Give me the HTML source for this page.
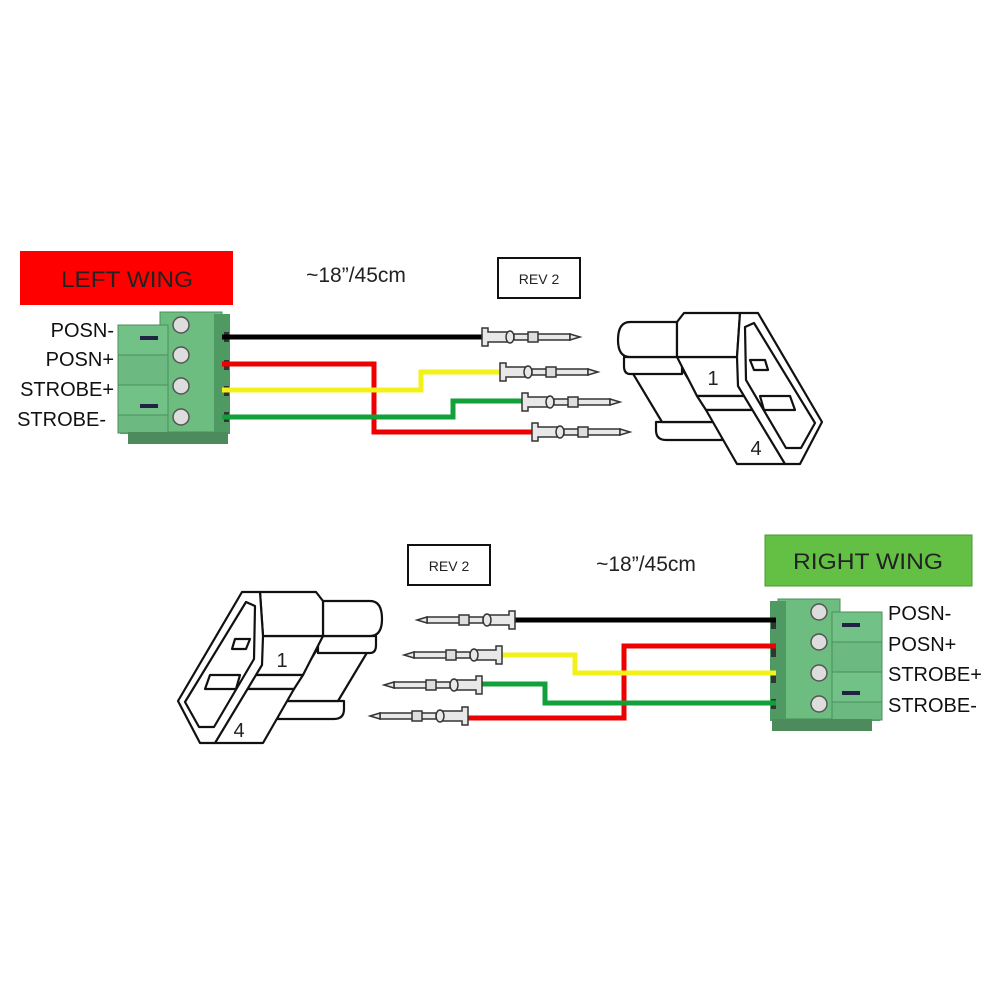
<!DOCTYPE html>
<html><head><meta charset="utf-8"><style>
html,body{margin:0;padding:0;background:#fff}
svg{display:block}
text{font-family:"Liberation Sans",sans-serif}
</style></head><body>
<svg width="1000" height="1000" viewBox="0 0 1000 1000" xmlns="http://www.w3.org/2000/svg">
<defs>
<g id="pin" fill="#e8e8e8" stroke="#333" stroke-width="1.5">
  <path d="M0,-9 L6,-9 L6,-5 L28,-5 L28,5 L6,5 L6,9 L0,9 Z"/>
  <ellipse cx="28" cy="0" rx="4" ry="6"/>
  <rect x="32" y="-3" width="56" height="6"/>
  <rect x="46" y="-5" width="10" height="10" fill="#ddd"/>
  <path d="M88,-3 L98,0 L88,3 Z"/>
</g>
<g id="block">
  <rect x="120" y="330" width="72" height="104" fill="#5daa70"/>
  <rect x="160" y="312" width="62" height="120" fill="#6dbd80" stroke="#4c8f5c"/>
  <rect x="214" y="314" width="16" height="120" fill="#4f9a62"/>
  <rect x="118" y="325" width="50" height="30" fill="#72c287" stroke="#4c8f5c"/>
  <rect x="118" y="355" width="50" height="30" fill="#6cb982" stroke="#4c8f5c"/>
  <rect x="118" y="385" width="50" height="30" fill="#72c287" stroke="#4c8f5c"/>
  <rect x="118" y="415" width="50" height="18" fill="#6cb982" stroke="#4c8f5c"/>
  <rect x="140" y="336" width="18" height="4" fill="#224"/>
  <rect x="140" y="404" width="18" height="4" fill="#224"/>
  <g fill="#ddd" stroke="#555" stroke-width="1.5">
    <circle cx="181" cy="325" r="8"/><circle cx="181" cy="355" r="8"/>
    <circle cx="181" cy="386" r="8"/><circle cx="181" cy="417" r="8"/>
  </g>
  <g fill="#333"><rect x="224" y="332" width="5" height="10"/><rect x="224" y="360" width="5" height="10"/><rect x="224" y="386" width="5" height="10"/><rect x="224" y="412" width="5" height="10"/></g>
  <rect x="128" y="432" width="100" height="12" fill="#4d8a5c"/>
</g>
<g id="housing" fill="#fff" stroke="#111" stroke-width="2.2" stroke-linejoin="round">
  <path d="M656,422 H722 V440 H666 Q656,440 656,430 Z"/>
  <path d="M632,372 L684,372 L700,398 L725,422 L662,422 Z"/>
  <path d="M624,357 H682 V374 H630 Q624,374 624,366 Z"/>
  <path d="M630,322 L677,322 L677,357 L630,357 Q618,357 618,340 Q618,322 630,322 Z"/>
  <path d="M677,357 L737,357 L758,396 L697,396 Z"/>
  <path d="M697,396 L758,396 L762,410 L706,410 Z"/>
  <path d="M706,410 L762,410 L785,464 L737,464 Z"/>
  <path d="M684,313 L740,313 L737,357 L677,357 L677,322 Z"/>
  <path d="M740,313 L758,313 L822,422 L800,464 L785,464 L738,386 L737,357 Z"/>
  <path d="M745,327 L754,323 L815,423 L801,448 L786,448 L746,380 Z"/>
  <path d="M750,360 L765,360 L768,370 L754,370 Z"/>
  <path d="M760,396 L790,396 L795,410 L764,410 Z"/>
</g>
</defs>
<rect width="1000" height="1000" fill="#fff"/>

<!-- TOP -->
<rect x="20" y="251" width="213" height="54" fill="#f00"/>
<text x="127" y="287" font-size="22" text-anchor="middle" fill="#222" textLength="132" lengthAdjust="spacingAndGlyphs">LEFT WING</text>
<text x="356" y="282" font-size="21" text-anchor="middle" fill="#222">~18”/45cm</text>
<rect x="498" y="258" width="82" height="40" fill="#fff" stroke="#111" stroke-width="2"/>
<text x="539" y="284" font-size="14" text-anchor="middle" fill="#222">REV 2</text>
<g font-size="20" fill="#111" text-anchor="end">
<text x="114" y="337">POSN-</text><text x="114" y="366">POSN+</text>
<text x="114" y="396">STROBE+</text><text x="106" y="426">STROBE-</text>
</g>
<use href="#block"/>
<g fill="none" stroke-width="5">
<path d="M222,337 H482" stroke="#000"/>
<path d="M222,364 H374 V432 H532" stroke="#e00"/>
<path d="M222,390 H421 V372 H500" stroke="#f2f21a"/>
<path d="M222,417 H453 V401 H522" stroke="#12a03a"/>
</g>
<use href="#pin" x="482" y="337"/>
<use href="#pin" x="500" y="372"/>
<use href="#pin" x="522" y="402"/>
<use href="#pin" x="532" y="432"/>
<use href="#housing"/>
<text x="713" y="385" font-size="20" text-anchor="middle" fill="#222">1</text>
<text x="756" y="455" font-size="20" text-anchor="middle" fill="#222">4</text>

<!-- BOTTOM -->
<rect x="408" y="545" width="82" height="40" fill="#fff" stroke="#111" stroke-width="2"/>
<text x="449" y="571" font-size="14" text-anchor="middle" fill="#222">REV 2</text>
<text x="646" y="571" font-size="21" text-anchor="middle" fill="#222">~18”/45cm</text>
<rect x="765" y="535" width="207" height="51" fill="#64c045" stroke="#4a9a30"/>
<text x="868" y="569" font-size="22" text-anchor="middle" fill="#222" textLength="150" lengthAdjust="spacingAndGlyphs">RIGHT WING</text>
<use href="#block" transform="translate(1000,287) scale(-1,1)"/>
<g font-size="20" fill="#111">
<text x="888" y="620">POSN-</text><text x="888" y="651">POSN+</text>
<text x="888" y="681">STROBE+</text><text x="888" y="712">STROBE-</text>
</g>
<g fill="none" stroke-width="5">
<path d="M776,620 H515" stroke="#000"/>
<path d="M776,646 H624 V718 H468" stroke="#e00"/>
<path d="M776,673 H575 V655 H502" stroke="#f2f21a"/>
<path d="M776,703 H545 V684 H482" stroke="#12a03a"/>
</g>
<use href="#pin" transform="translate(515,620) scale(-1,1)"/>
<use href="#pin" transform="translate(502,655) scale(-1,1)"/>
<use href="#pin" transform="translate(482,685) scale(-1,1)"/>
<use href="#pin" transform="translate(468,716) scale(-1,1)"/>
<use href="#housing" transform="translate(1000,279) scale(-1,1)"/>
<text x="282" y="667" font-size="20" text-anchor="middle" fill="#222">1</text>
<text x="239" y="737" font-size="20" text-anchor="middle" fill="#222">4</text>
</svg>
</body></html>
